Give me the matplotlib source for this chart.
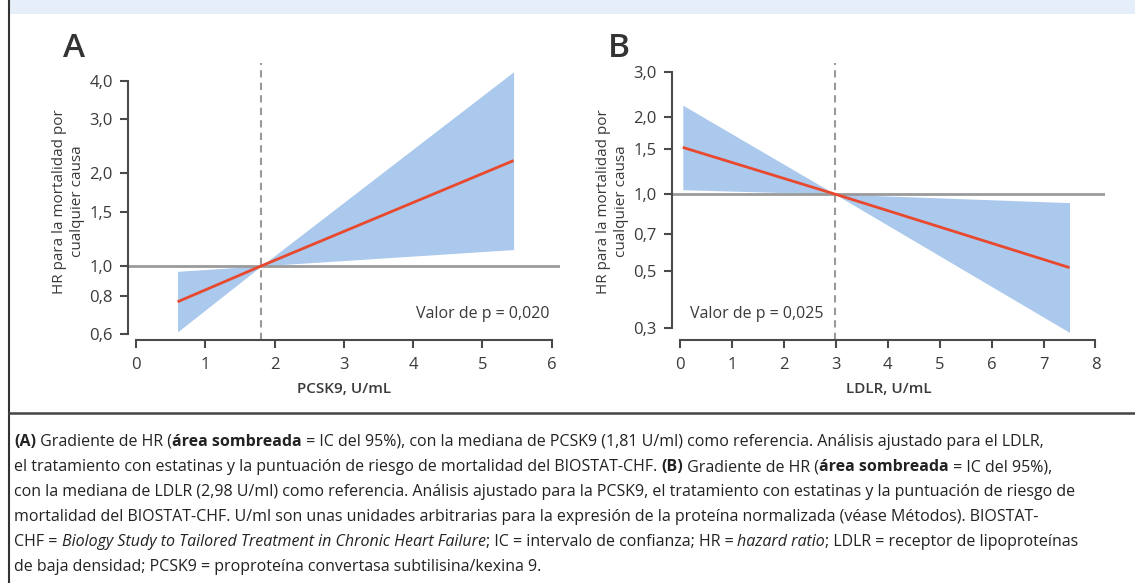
import matplotlib
matplotlib.use("Agg")
import matplotlib.pyplot as plt
from matplotlib.patches import Rectangle
from matplotlib.lines import Line2D
from matplotlib.ticker import FixedLocator, NullLocator

# ---------------- data ----------------
pcsk9_x = [0.6, 1.81, 5.45]
pcsk9_hr = [0.764, 1.0, 2.20]
pcsk9_lo = [0.61, 1.0, 1.13]
pcsk9_hi = [0.96, 1.0, 4.28]
pcsk9_median = 1.81
pcsk9_yticks = [0.6, 0.8, 1.0, 1.5, 2.0, 3.0, 4.0]
pcsk9_xticks = [0, 1, 2, 3, 4, 5, 6]

ldlr_x = [0.05, 2.98, 7.5]
ldlr_hr = [1.52, 1.0, 0.517]
ldlr_lo = [1.04, 1.0, 0.289]
ldlr_hi = [2.22, 1.0, 0.926]
ldlr_median = 2.98
ldlr_yticks = [0.3, 0.5, 0.7, 1.0, 1.5, 2.0, 3.0]
ldlr_xticks = [0, 1, 2, 3, 4, 5, 6, 7, 8]

ylabel = "HR para la mortalidad por\ncualquier causa"
pval_a = "Valor de p = 0,020"
pval_b = "Valor de p = 0,025"

caption_lines = [
    [("(A)", "b"), (" Gradiente de HR (", "n"), ("área sombreada", "b"),
     (" = IC del 95%), con la mediana de PCSK9 (1,81 U/ml) como referencia. Análisis ajustado para el LDLR,", "n")],
    [("el tratamiento con estatinas y la puntuación de riesgo de mortalidad del BIOSTAT-CHF. ", "n"), ("(B)", "b"),
     (" Gradiente de HR (", "n"), ("área sombreada", "b"), (" = IC del 95%),", "n")],
    [("con la mediana de LDLR (2,98 U/ml) como referencia. Análisis ajustado para la PCSK9, el tratamiento con estatinas y la puntuación de riesgo de", "n")],
    [("mortalidad del BIOSTAT-CHF. U/ml son unas unidades arbitrarias para la expresión de la proteína normalizada (véase Métodos). BIOSTAT-", "n")],
    [("CHF = ", "n"), ("Biology Study to Tailored Treatment in Chronic Heart Failure", "i"),
     ("; IC = intervalo de confianza; HR = ", "n"), ("hazard ratio", "i"), ("; LDLR = receptor de lipoproteínas", "n")],
    [("de baja densidad; PCSK9 = proproteína convertasa subtilisina/kexina 9.", "n")],
]

# ---------------- style ----------------
FONT = "Open Sans"
plt.rcParams["font.family"] = [FONT, "DejaVu Sans"]
W, H = 1135, 583
DPI = 100
TXT = "#3a3a3a"
SPINE = "#4a4a4a"
BAND = "#aac9ec"
RED = "#e8492e"
REF = "#9a9a9a"

fig = plt.figure(figsize=(W / DPI, H / DPI), dpi=DPI)
fig.patch.set_facecolor("white")


def fx(px):
    return px / W


def fy(py):
    return 1 - py / H


# frame decorations
fig.patches.append(Rectangle((fx(9), fy(14)), 1 - fx(9), 14 / H, transform=fig.transFigure,
                             facecolor="#e6eef9", edgecolor="none", zorder=0))
fig.lines.append(Line2D([fx(8.5), fx(8.5)], [0, 1], transform=fig.transFigure, color="#333333", lw=1.5))
fig.lines.append(Line2D([fx(8.5), 1], [fy(413), fy(413)], transform=fig.transFigure, color="#444444", lw=1.8))


def fmt(v):
    return f"{v:.1f}".replace(".", ",")


def panel(rect_px, xlim, ylim, xs, hr, lo, hi, median, yticks, xticks, xlabel):
    l, t, r, b = rect_px
    ax = fig.add_axes([fx(l), fy(b), fx(r - l), (b - t) / H])
    ax.set_yscale("log")
    ax.set_xlim(*xlim)
    ax.set_ylim(*ylim)
    ax.fill_between(xs, lo, hi, color=BAND, lw=0, zorder=1)
    ax.axhline(1.0, color=REF, lw=2.0, zorder=2)
    ax.axvline(median, color=REF, lw=1.5, ls=(0, (3.5, 2.5)), zorder=2)
    ax.plot(xs, hr, color=RED, lw=2.0, zorder=3, solid_capstyle="butt")
    ax.yaxis.set_major_locator(FixedLocator(yticks))
    ax.yaxis.set_minor_locator(NullLocator())
    ax.set_yticklabels([fmt(v) for v in yticks])
    ax.set_xticks(xticks)
    ax.set_xticklabels([str(v) for v in xticks])
    for s in ["top", "right"]:
        ax.spines[s].set_visible(False)
    for s in ["left", "bottom"]:
        ax.spines[s].set_color(SPINE)
        ax.spines[s].set_linewidth(1.5)
    ax.spines["left"].set_bounds(yticks[0], yticks[-1])
    ax.spines["bottom"].set_bounds(xticks[0], xticks[-1])
    ax.tick_params(axis="both", which="major", length=6, width=1.5, color=SPINE,
                   labelcolor=TXT, labelsize=12, pad=5)
    ax.tick_params(axis="x", pad=6)
    ax.set_facecolor("none")
    ax.set_xlabel(xlabel, fontsize=11, color=TXT, fontweight="semibold", labelpad=7)
    ax.set_ylabel(ylabel, fontsize=11, color=TXT, linespacing=1.3, labelpad=3)
    return ax


axA = panel((128, 62.7, 560, 340), (-0.115, 6.12), (0.574, 4.58),
            pcsk9_x, pcsk9_hr, pcsk9_lo, pcsk9_hi, pcsk9_median,
            pcsk9_yticks, pcsk9_xticks, "PCSK9, U/mL")
axB = panel((672.2, 62.7, 1104.8, 340), (-0.154, 8.18), (0.270, 3.25),
            ldlr_x, ldlr_hr, ldlr_lo, ldlr_hi, ldlr_median,
            ldlr_yticks, ldlr_xticks, "LDLR, U/mL")

fig.text(fx(549), fy(314), pval_a, ha="right", va="center", fontsize=11.5, color=TXT)
fig.text(fx(690), fy(314), pval_b, ha="left", va="center", fontsize=11.5, color=TXT)

fig.text(fx(63), fy(57), "A", fontsize=24, color="#333333", fontweight="semibold",
         ha="left", va="baseline")
fig.text(fx(608), fy(57), "B", fontsize=24, color="#333333", fontweight="semibold",
         ha="left", va="baseline")

# caption with mixed styles
renderer = fig.canvas.get_renderer()
CAP_SIZE = 11.5
x0 = 14
base0 = 446
step = 25
for i, runs in enumerate(caption_lines):
    xpix = x0
    ypix = base0 + i * step
    for txt, sty in runs:
        kw = dict(fontsize=CAP_SIZE, color="#222222", ha="left", va="baseline")
        if sty == "b":
            kw["fontweight"] = "bold"
        elif sty == "i":
            kw["fontstyle"] = "italic"
        t = fig.text(fx(xpix), fy(ypix), txt, **kw)
        bb = t.get_window_extent(renderer=renderer)
        xpix += bb.width

fig.savefig("out.png", dpi=DPI)
